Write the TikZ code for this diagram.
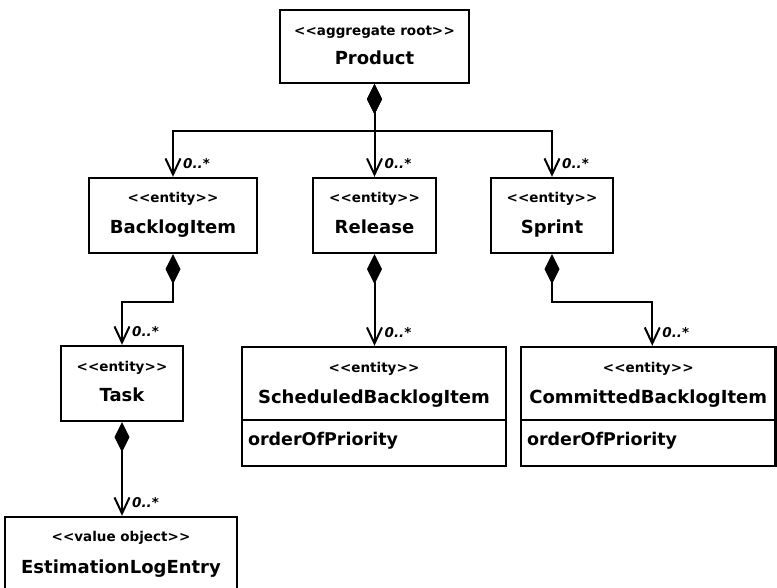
\documentclass[tikz,border=0pt]{standalone}
\usepackage{fontspec}
\setmainfont{DejaVu Sans}
\usetikzlibrary{arrows.meta,calc}
\newcommand\sterL{<\kern0.2pt<}
\newcommand\sterR{>\kern0.2pt>}
\begin{document}
\begin{tikzpicture}[x=1pt,y=-1pt,
  box/.style={draw,line width=2.4pt,inner sep=0pt},
  stereo/.style={font=\fontsize{13.5}{15}\selectfont\bfseries,inner sep=0pt,anchor=base},
  cname/.style={font=\fontsize{18}{21}\selectfont\bfseries,inner sep=0pt,anchor=base},
  attr/.style={font=\fontsize{17.5}{21}\selectfont\bfseries,inner sep=0pt,anchor=base west},
  mult/.style={font=\fontsize{13.5}{16}\selectfont\bfseries\itshape,inner sep=0pt,anchor=base west},
  comp/.style={line width=2pt,{Diamond[length=30pt,width=15pt,fill=black]}-{Straight Barb[length=16pt,width=15pt,line width=2pt]}}
]
\clip (0,0) rectangle (777,587);
\fill[white] (0,0) rectangle (777,587);

% boxes
\node[box,minimum width=189pt,minimum height=73pt] (product) at (374.5,46.5) {};
\node[box,minimum width=168pt,minimum height=75pt] (backlog) at (173,215.5) {};
\node[box,minimum width=123pt,minimum height=75pt] (release) at (374.5,215.5) {};
\node[box,minimum width=122pt,minimum height=75pt] (sprint) at (552,215.5) {};
\node[box,minimum width=122pt,minimum height=75pt] (task) at (122,383.5) {};
\node[box,minimum width=232pt,minimum height=75pt] (est) at (121,554.5) {};
\node[box,minimum width=264pt,minimum height=73pt] (sched) at (374,383.5) {};
\node[box,minimum width=264pt,minimum height=46pt] (schedattr) at (374,443) {};
\node[box,minimum width=254.5pt,minimum height=73pt] (comm) at (648.25,383.5) {};
\node[box,minimum width=254.5pt,minimum height=46pt] (commattr) at (648.25,443) {};

% texts
\node[stereo] (t1) at ($(product.north)+(0,27)$) {\sterL aggregate root\sterR};
\node[cname] (n1) at ($(product.north)+(0,56)$) {Product};
\node[stereo] (t2) at ($(backlog.north)+(0,26)$) {\sterL entity\sterR};
\node[cname] (n2) at ($(backlog.north)+(0,57)$) {BacklogItem};
\node[stereo] (t3) at ($(release.north)+(0,26)$) {\sterL entity\sterR};
\node[cname] (n3) at ($(release.north)+(0,57)$) {Release};
\node[stereo] (t4) at ($(sprint.north)+(0,26)$) {\sterL entity\sterR};
\node[cname] (n4) at ($(sprint.north)+(0,57)$) {Sprint};
\node[stereo] (t5) at ($(task.north)+(0,27)$) {\sterL entity\sterR};
\node[cname] (n5) at ($(task.north)+(0,57)$) {Task};
\node[stereo] (t6) at ($(est.north)+(0,26)$) {\sterL value object\sterR};
\node[cname] (n6) at ($(est.north)+(0,58)$) {EstimationLogEntry};
\node[stereo] (t7) at ($(sched.north)+(0,27)$) {\sterL entity\sterR};
\node[cname] (n7) at ($(sched.north)+(0,58)$) {ScheduledBacklogItem};
\node[attr] (a7) at ($(schedattr.west)+(7,2)$) {orderOfPriority};
\node[stereo] (t8) at ($(comm.north)+(0,27)$) {\sterL entity\sterR};
\node[cname] (n8) at ($(comm.north)+(0,58)$) {CommittedBacklogItem};
\node[attr] (a8) at ($(commattr.west)+(7,2)$) {orderOfPriority};

% connectors
\draw[comp] (product.south) -- ++(0,47) -| (backlog.north);
\draw[comp] (product.south) -- (release.north);
\draw[comp] (product.south) -- ++(0,47) -| (sprint.north);
\draw[comp] (backlog.south) -- ++(0,48) -| (task.north);
\draw[comp] (release.south) -- (release.south |- sched.north);
\coordinate (cin) at ($(comm.north)+(4,0)$);
\draw[comp] (sprint.south) -- ++(0,48) -| (cin);
\draw[comp] (task.south) -- (task.south |- est.north);

% multiplicities
\node[mult] (m1) at ($(backlog.north)+(10,-8)$) {0..*};
\node[mult] (m2) at ($(release.north)+(10,-8)$) {0..*};
\node[mult] (m3) at ($(sprint.north)+(10,-8)$) {0..*};
\node[mult] (m4) at ($(task.north)+(10,-8)$) {0..*};
\node[mult] (m5) at ($(release.south |- sched.north)+(10,-8)$) {0..*};
\node[mult] (m6) at ($(cin)+(10,-8)$) {0..*};
\node[mult] (m7) at ($(task.south |- est.north)+(10,-8)$) {0..*};
\end{tikzpicture}
\end{document}
